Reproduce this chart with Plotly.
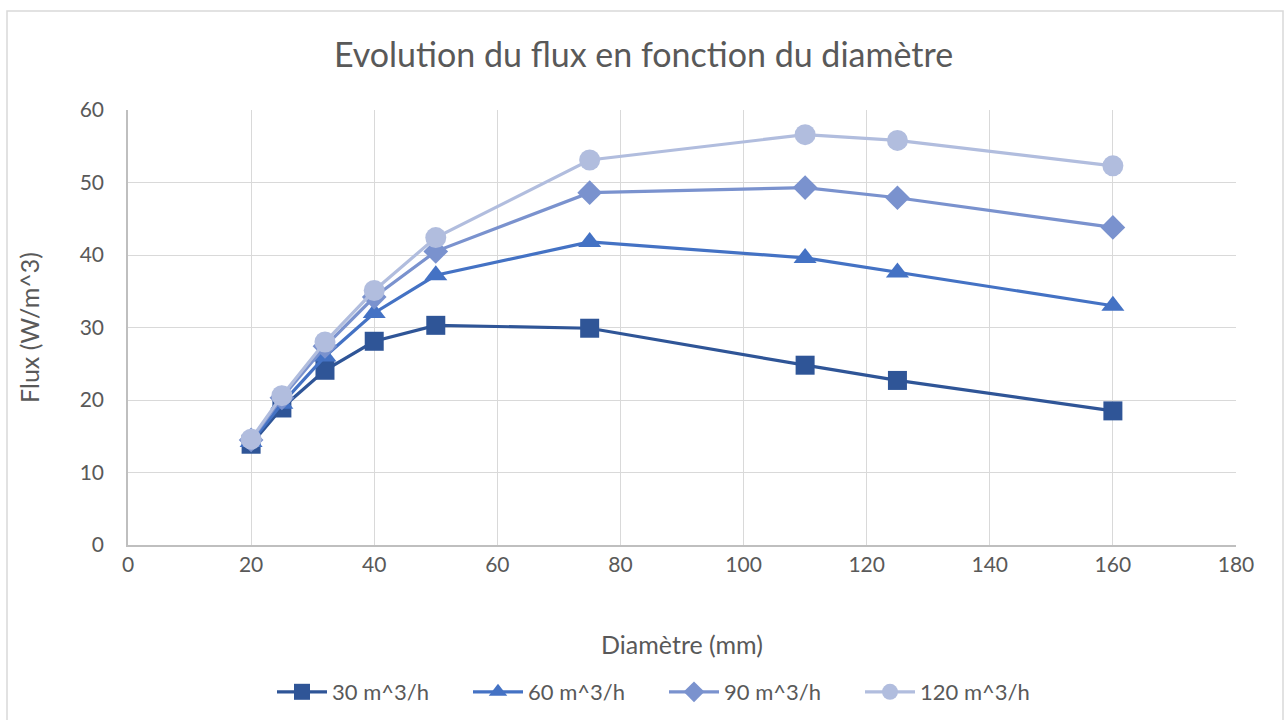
import plotly.graph_objects as go

diameters = [20, 25, 32, 40, 50, 75, 110, 125, 160]
series_names = ["30 m^3/h", "60 m^3/h", "90 m^3/h", "120 m^3/h"]
flux_30 = [13.9, 18.9, 24.1, 28.1, 30.3, 29.9, 24.8, 22.7, 18.5]
flux_60 = [14.2, 19.5, 26.0, 32.0, 37.2, 41.8, 39.6, 37.6, 33.0]
flux_90 = [14.5, 20.3, 27.4, 34.2, 40.5, 48.6, 49.3, 47.9, 43.8]
flux_120 = [14.6, 20.6, 28.0, 35.1, 42.4, 53.1, 56.6, 55.8, 52.3]

colors = ["#2F5597", "#4472C4", "#7A92CE", "#B1BDDE"]
symbols = ["square", "triangle-up", "diamond", "circle"]
sizes = [19, 20, 19, 21]

FONT = "Lato"
TXT = "#595959"

fig = go.Figure()
for name, ys, c, s, sz in zip(series_names, [flux_30, flux_60, flux_90, flux_120], colors, symbols, sizes):
    fig.add_trace(go.Scatter(
        x=diameters, y=ys, name=name, mode="lines+markers",
        line=dict(color=c, width=3.2),
        marker=dict(symbol=s, size=sz, color=c, line=dict(width=0)),
    ))

fig.update_layout(
    width=1287, height=720,
    margin=dict(l=128, r=51, t=110, b=175),
    paper_bgcolor="white", plot_bgcolor="white",
    font=dict(family=FONT, color=TXT, size=21),
    title=dict(text="Evolution du flux en fonction du diamètre", x=0.5, xref="container",
               y=1 - 55 / 720, yref="container", xanchor="center", yanchor="middle",
               font=dict(family=FONT, size=34, color=TXT)),
    showlegend=True,
    legend=dict(orientation="h", x=272 / 1287, xref="container", xanchor="left",
                y=1 - 692 / 720, yref="container", yanchor="middle",
                font=dict(size=22, color=TXT), entrywidth=131, entrywidthmode="pixels",
                itemwidth=50, itemsizing="trace"),
    shapes=[dict(type="rect", xref="paper", yref="paper",
                 x0=(7 - 128) / 1108, x1=(1283 - 128) / 1108,
                 y0=(545 - 730) / 435, y1=(545 - 11) / 435,
                 line=dict(color="#D9D9D9", width=1.5), layer="below")],
)
fig.update_xaxes(range=[0, 180], tick0=0, dtick=20, showgrid=True, gridcolor="#D9D9D9", gridwidth=1,
                 showline=True, linecolor="#BFBFBF", linewidth=1.5, zeroline=False,
                 ticks="", tickfont=dict(size=21, color=TXT),
                 title=dict(text="Diamètre (mm)", standoff=62, font=dict(size=25, color=TXT)))
fig.update_yaxes(range=[0, 60], tick0=0, dtick=10, showgrid=True, gridcolor="#D9D9D9", gridwidth=1,
                 showline=True, linecolor="#BFBFBF", linewidth=1.5, zeroline=False,
                 ticks="outside", ticklen=18, tickcolor="rgba(0,0,0,0)", tickfont=dict(size=21, color=TXT),
                 title=dict(text="Flux (W/m^3)", standoff=33, font=dict(size=25, color=TXT)))

fig.write_html("out.html")
